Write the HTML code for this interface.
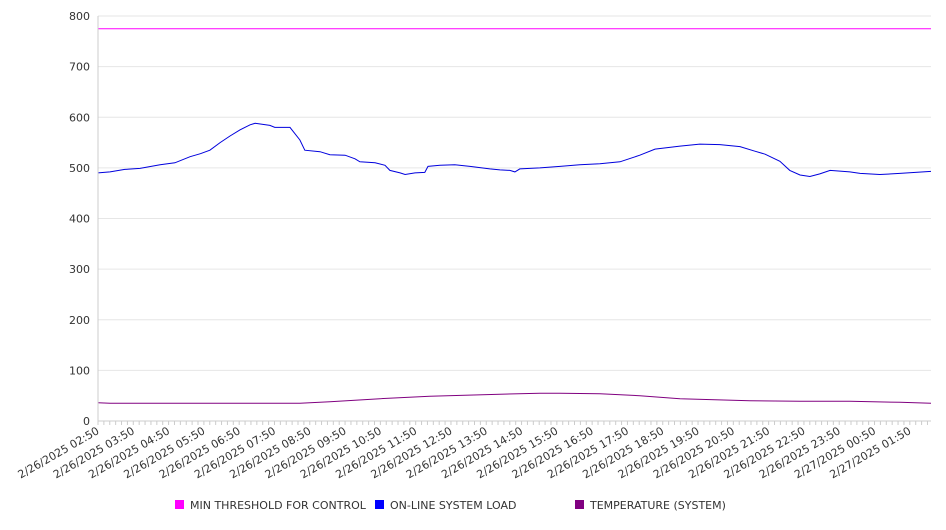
<!DOCTYPE html>
<html><head><meta charset="utf-8"><style>
body{margin:0;background:#fff;font-family:"DejaVu Sans","Liberation Sans",sans-serif}
svg text{font-family:"DejaVu Sans","Liberation Sans",sans-serif;fill:#333;font-size:11px}
</style></head><body>
<svg id="chart" width="946" height="526" xmlns="http://www.w3.org/2000/svg">
<g id="grid"></g><g id="series"></g><g id="axes"></g><g id="legend"></g>
</svg>
<script>
const xLabels=["2/26/2025 02:50","2/26/2025 03:50","2/26/2025 04:50","2/26/2025 05:50","2/26/2025 06:50","2/26/2025 07:50","2/26/2025 08:50","2/26/2025 09:50","2/26/2025 10:50","2/26/2025 11:50","2/26/2025 12:50","2/26/2025 13:50","2/26/2025 14:50","2/26/2025 15:50","2/26/2025 16:50","2/26/2025 17:50","2/26/2025 18:50","2/26/2025 19:50","2/26/2025 20:50","2/26/2025 21:50","2/26/2025 22:50","2/26/2025 23:50","2/27/2025 00:50","2/27/2025 01:50"];
const yTicks=[0,100,200,300,400,500,600,700,800];
const thresholdHours=[0,23.6];
const thresholdValues=[775,775];
const loadHours=[0,0.34,0.76,1.19,1.76,2.18,2.61,2.9,3.17,3.46,3.74,4.02,4.31,4.45,4.87,5.01,5.44,5.72,5.86,6.29,6.57,7.0,7.28,7.42,7.85,8.13,8.27,8.56,8.7,8.98,9.26,9.35,9.69,10.11,10.54,11.1,11.39,11.67,11.81,11.95,12.52,13.09,13.65,14.22,14.79,15.35,15.78,16.49,17.05,17.62,18.19,18.61,18.9,19.32,19.6,19.89,20.17,20.45,20.74,21.3,21.59,22.15,22.72,23.6];
const loadValues=[490,492,497,499,506,510,522,528,535,550,563,575,585,588,584,580,580,555,535,532,526,525,518,512,510,505,495,490,487,490,491,503,505,506,503,498,496,495,492,498,500,503,506,508,512,525,537,543,547,546,542,533,527,513,495,486,483,488,495,492,489,487,489,493];
const tempHours=[0,0.34,1.5,5.72,6.57,7.99,9.4,11.39,12.52,13.09,14.22,15.35,16.49,18.47,19.89,21.3,22.72,23.6];
const tempValues=[36,35,35,35,38,44,49,53,55,55,54,50,44,40,39,39,37,35];

const X0=98,X1=931,Y0=421,Y1=16,HMAX=23.6,YMAX=800;
const xS=h=>X0+h*(X1-X0)/HMAX;
const yS=v=>Y0-v*(Y0-Y1)/YMAX;
const NS="http://www.w3.org/2000/svg";
function mk(tag,parent,attrs){const e=document.createElementNS(NS,tag);for(const k in attrs)e.setAttribute(k,attrs[k]);document.getElementById(parent).appendChild(e);return e;}

yTicks.forEach(v=>{
 const l=mk('line','grid',{x1:X0,x2:X1,y1:yS(v),y2:yS(v),stroke:'#e6e6e6','stroke-width':1});
 
 
 const t=mk('text','axes',{x:90,y:yS(v)+4,'text-anchor':'end'});
 t.textContent=v;
 
 
});
const ax=mk('line','axes',{x1:X0,x2:X0,y1:Y1,y2:Y0,stroke:'#ccc'});


const bx=mk('line','axes',{x1:X0,x2:X1,y1:Y0,y2:Y0,stroke:'#ccc'});


for(let h=0;h<=HMAX;h+=1/6){
 const tk=mk('line','axes',{x1:xS(h),x2:xS(h),y1:Y0,y2:Y0+4,stroke:'#ccc'});
 
 
}
xLabels.forEach((s,i)=>{
 const x=xS(i)+2,y=Y0+12;
 const t=mk('text','axes',{x:x,y:y,'text-anchor':'end',transform:`rotate(-30 ${x} ${y})`});
 t.textContent=s;
 
 
});
function line(hs,vs,color,name){
 const d=hs.map((h,i)=>(i?'L':'M')+xS(h).toFixed(1)+','+yS(vs[i]).toFixed(1)).join('');
 const p=mk('path','series',{d:d,fill:'none',stroke:color,'stroke-width':1});
 
 
}
line(thresholdHours,thresholdValues,'#ff00ff','threshold-line');
line(loadHours,loadValues,'#0000dd','system-load-line');
line(tempHours,tempValues,'#800080','temperature-line');
[["MIN THRESHOLD FOR CONTROL","#ff00ff",175],["ON-LINE SYSTEM LOAD","#0000ff",375],["TEMPERATURE (SYSTEM)","#800080",575]].forEach(([lab,c,x])=>{
 const r=mk('rect','legend',{x:x,y:500,width:9,height:9,fill:c});
 
 
 const t=mk('text','legend',{x:x+15,y:509});
 t.textContent=lab;
 
 
});
</script>
</body></html>
